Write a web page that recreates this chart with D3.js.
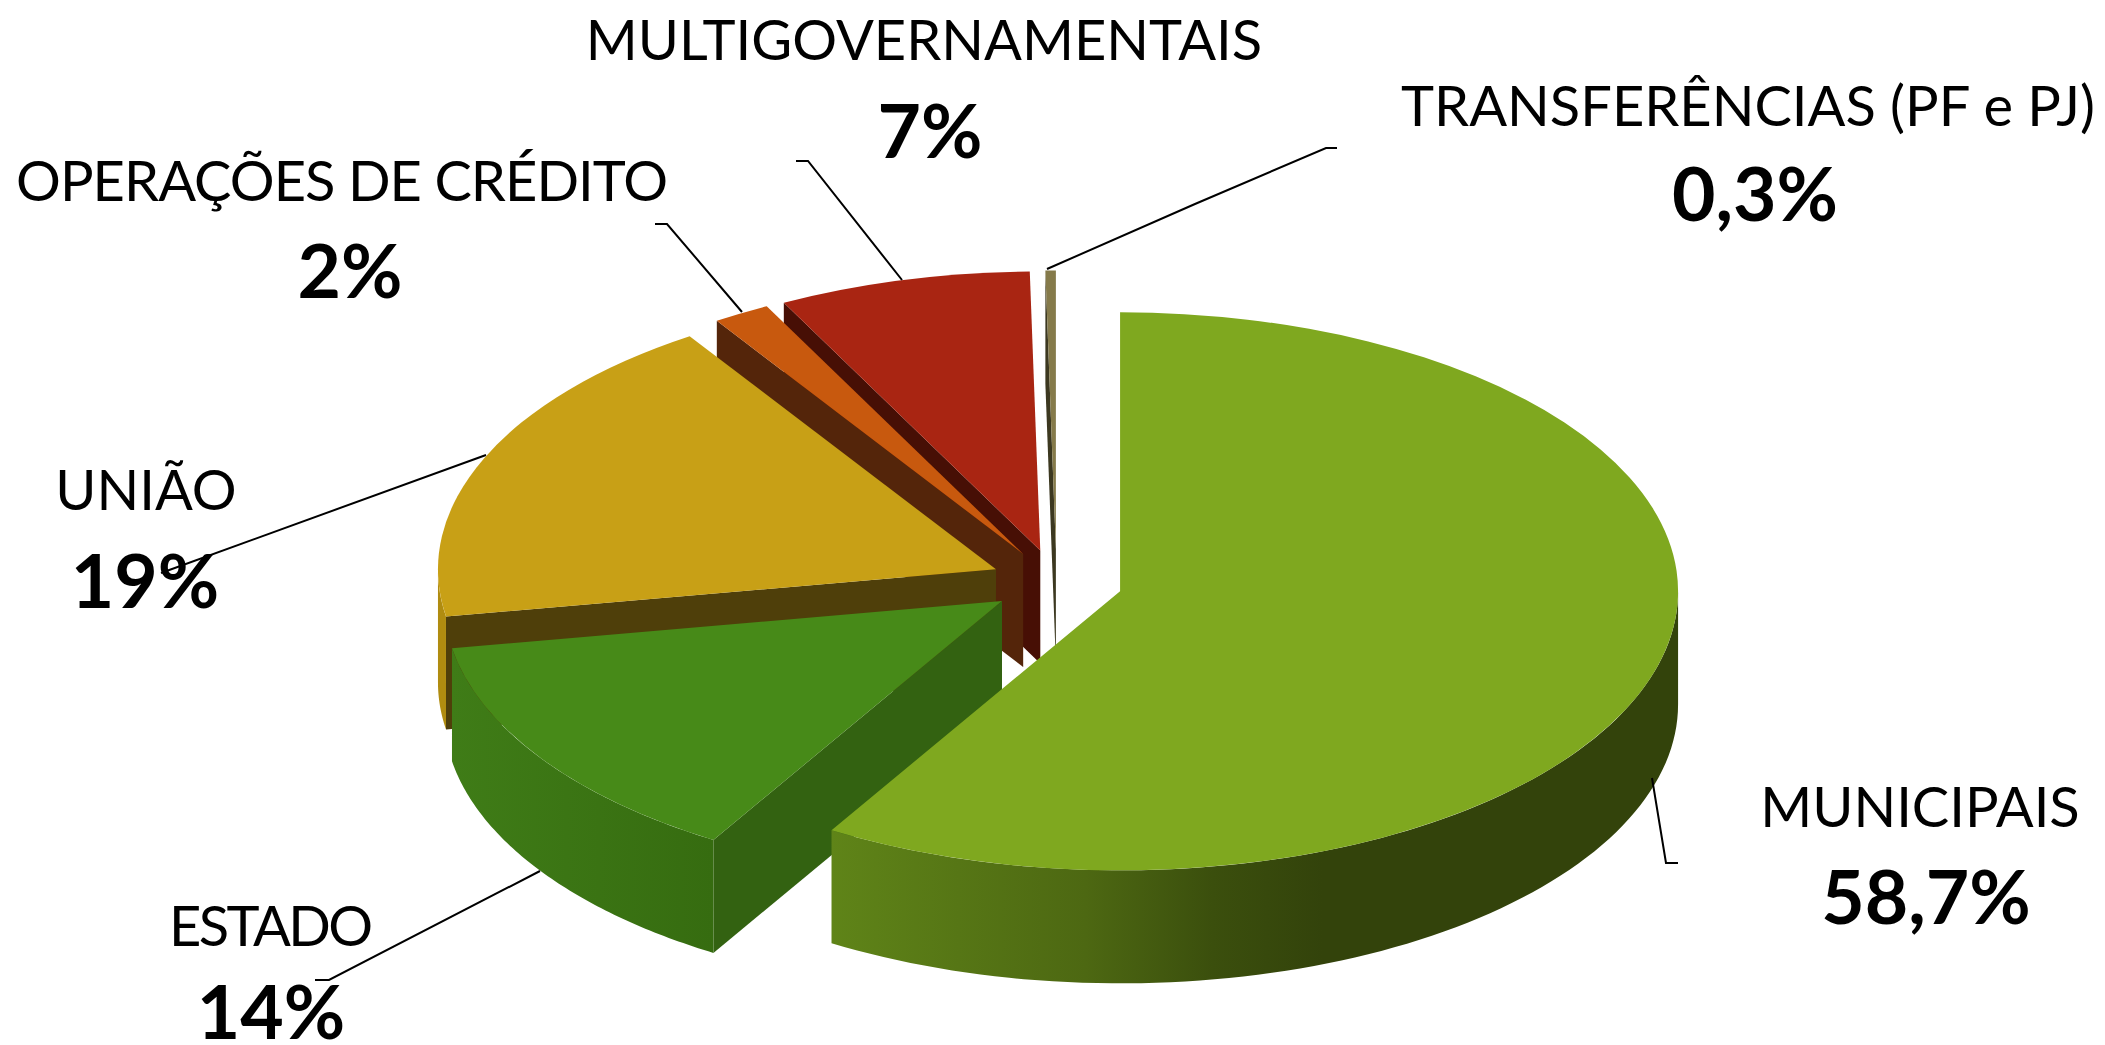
<!DOCTYPE html>
<html>
<head>
<meta charset="utf-8">
<script src="https://cdnjs.cloudflare.com/ajax/libs/d3/7.8.5/d3.min.js"></script>
<style>
html,body{margin:0;padding:0;background:#fff;overflow:hidden}
svg{display:block}
text{font-family:Lato,"Open Sans",sans-serif;fill:#000;text-anchor:middle}
</style>
</head>
<body>
<script>
// ---- data ----
const categories = ["MUNICIPAIS","ESTADO","UNIÃO","OPERAÇÕES DE CRÉDITO","MULTIGOVERNAMENTAIS","TRANSFERÊNCIAS (PF e PJ)"];
const valueLabels = ["58,7%","14%","19%","2%","7%","0,3%"];
const shares = [58.65,13.65,18.45,1.65,7.3,0.3];

// ---- styles ----
const topColors  = ["#7fa81f","#478a18","#c8a016","#c8590e","#a92512","#857a4a"];
const edgeColors = ["#33430b","#336211","#4f3f0a","#54250a","#470f05","#3c3820"];
const wallStops  = [
  [[0,"#5f8418"],[0.3,"#4d6812"],[0.45,"#3b4f0d"],[0.58,"#33430b"],[1,"#33430b"]],
  [[0,"#3f7c17"],[1,"#366c10"]],
  [[0,"#b08c10"],[1,"#b08c10"]],
  [[0,"#54250a"],[1,"#54250a"]],
  [[0,"#470f05"],[1,"#470f05"]],
  [[0,"#3c3820"],[1,"#3c3820"]]
];
// ---- layout ----
const W=2105,H=1045,cx=1056.5,cy=582.5,rx=558,tilt=0.5,depth=113,explode=66;
const labelLayout=[
  {x:1920,y:827,vy:924,vx:1926},
  {x:271,y:946,vy:1039,vx:271,w:204},
  {x:146,y:510,vy:608,vx:145},
  {x:342,y:201,vy:298,vx:350,w:652},
  {x:924,y:60,vy:158,vx:930},
  {x:1748,y:126,vy:221,vx:1755}
];
const leaders=[
  [[1652,778],[1666,863],[1678,863]],
  [[540,871],[329,980],[315,980]],
  [[486,455],[161,573]],
  [[742,312],[667,224],[655,224]],
  [[902,280],[808,161],[796,161]],
  [[1047,269],[1195,204],[1326,148],[1337,148]]
];

const svg=d3.select("body").append("svg").attr("width",W).attr("height",H);
const defs=svg.append("defs");
const pie=d3.pie().sort(null).value(d=>d);
const slices=pie(shares);
const arc=d3.arc().innerRadius(0).outerRadius(rx);
const line=d3.line();
const area=d3.area().x(d=>d[0]).y0(d=>d[1]).y1(d=>d[1]+depth);
const rim=(a,o)=>[o[0]+rx*Math.sin(a),o[1]-rx*tilt*Math.cos(a)];

const g=svg.append("g");
// back to front
const order=d3.range(slices.length).reverse();
order.forEach(i=>{
  const s=slices[i];
  const m=(s.startAngle+s.endAngle)/2;
  const apex=[cx+explode*Math.sin(m),cy-explode*tilt*Math.cos(m)];
  const sg=g.append("g");
  // inner wall under the start edge, when it faces the viewer
  if(s.startAngle>Math.PI){
    const p=rim(s.startAngle,apex);
    sg.append("path").attr("fill",edgeColors[i])
      .attr("d",line([apex,p,[p[0],p[1]+depth],[apex[0],apex[1]+depth]])+"Z");
  }
  // outer wall, front half of the ellipse
  const a0=Math.max(s.startAngle,Math.PI/2),a1=Math.min(s.endAngle,Math.PI*1.5);
  if(a1>a0){
    const pts=d3.range(0,1.0001,1/80).map(t=>rim(a0+(a1-a0)*t,apex));
    const xs=d3.extent(pts,d=>d[0]);
    const id="wall"+i;
    const lg=defs.append("linearGradient").attr("id",id).attr("gradientUnits","userSpaceOnUse")
      .attr("x1",xs[0]).attr("x2",xs[1]).attr("y1",0).attr("y2",0);
    wallStops[i].forEach(st=>lg.append("stop").attr("offset",st[0]).attr("stop-color",st[1]));
    sg.append("path").attr("fill",`url(#${id})`).attr("d",area(pts));
  }
  // top face
  sg.append("path").attr("fill",topColors[i])
    .attr("transform",`translate(${apex[0]},${apex[1]}) scale(1,${tilt})`)
    .attr("d",arc(s));
});

// leader lines
svg.append("g").selectAll("path").data(leaders).join("path")
  .attr("d",d=>line(d)).attr("fill","none").attr("stroke","#000").attr("stroke-width",2);

// labels
const labels=svg.append("g");
categories.forEach((c,i)=>{
  const l=labelLayout[i];
  const t=labels.append("text").attr("x",l.x).attr("y",l.y).attr("font-size",56).text(c);
  if(l.w) t.attr("textLength",l.w).attr("lengthAdjust","spacing");
  labels.append("text").attr("x",l.vx).attr("y",l.vy).attr("font-size",75).attr("font-weight",700).text(valueLabels[i]);
});
</script>
</body>
</html>
